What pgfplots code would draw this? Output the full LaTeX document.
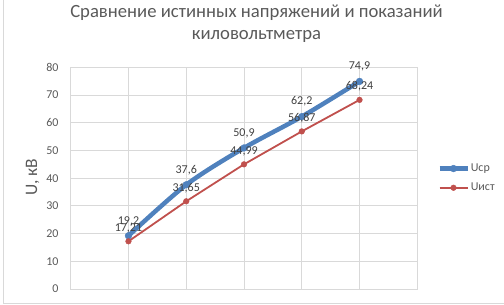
\documentclass[border=0pt]{standalone}
\usepackage{pgfplots}
\pgfplotsset{compat=1.18}
\usepackage{fontspec}
\setmainfont{Carlito}
\definecolor{cblue}{HTML}{4F81BD}
\definecolor{cred}{HTML}{C0504D}
\definecolor{cgrid}{RGB}{217,217,217}
\definecolor{ctext}{RGB}{89,89,89}
\definecolor{clab}{RGB}{64,64,64}
\begin{document}
\begin{tikzpicture}[x=1pt,y=1pt]
\draw[cgrid, line width=1pt] (3,305) -- (3,1) -- (504,1);
\begin{axis}[
  at={(70.7pt,16pt)}, anchor=origin,
  scale only axis, width=346.6pt, height=221.7pt,
  xmin=0, xmax=6, ymin=0, ymax=80,
  xtick={0,1,2,3,4,5,6}, xticklabels={},
  ytick={0,10,...,80},
  grid=major,
  major grid style={cgrid, line width=0.8pt},
  axis line style={cgrid, line width=0.8pt},
  major tick length=0pt,
  /pgf/number format/assume math mode=true,
  yticklabel style={font=\fontsize{12}{14}\selectfont, text=ctext, inner sep=0pt, xshift=-12pt},
  ylabel={U, кВ},
  ylabel style={font=\fontsize{17.5}{20}\selectfont, text=ctext, at={(axis description cs:-0.110,0.505)}, anchor=center},
  title={Сравнение истинных напряжений и показаний\\киловольтметра},
  title style={font=\fontsize{18.67}{22}\selectfont, text=ctext, align=center, at={(axis description cs:0.536,1.168)}, anchor=center},
  legend style={at={(axis description cs:1.057,0.50)}, anchor=west, draw=none, fill=none,
    font=\fontsize{12}{14}\selectfont, text=ctext, row sep=8pt, inner sep=0pt,
    nodes={inner sep=1pt}},
  legend cell align=left,
  legend image code/.code={\draw[mark repeat=2,mark phase=2,#1] plot coordinates {(0pt,0pt) (14pt,0pt) (28pt,0pt)};},
  nodes near coords,
  point meta=explicit symbolic,
  every node near coord/.append style={font=\fontsize{12}{14}\selectfont, text=clab, inner sep=2pt},
  clip=false,
]
\addplot[cblue, line width=4.5pt, smooth, mark=*, mark size=3.4pt, mark options={line width=0.4pt},
  every node near coord/.append style={yshift=8pt}]
  table[meta=lab] {
x y lab
1 19.2 19,2
2 37.6 37,6
3 50.9 50,9
4 62.2 62,2
5 74.9 74,9
};
\addlegendentry{Uср}
\addplot[cred, line width=1.8pt, mark=*, mark size=2.8pt, mark options={solid, line width=0.5pt},
  every node near coord/.append style={yshift=6.5pt}]
  table[meta=lab] {
x y lab
1 17.21 17,21
2 31.65 31,65
3 44.99 44,99
4 56.87 56,87
5 68.24 68,24
};
\addlegendentry{Uист}
\end{axis}
\pgfresetboundingbox
\path (0,0) rectangle (504,305);
\end{tikzpicture}
\end{document}
